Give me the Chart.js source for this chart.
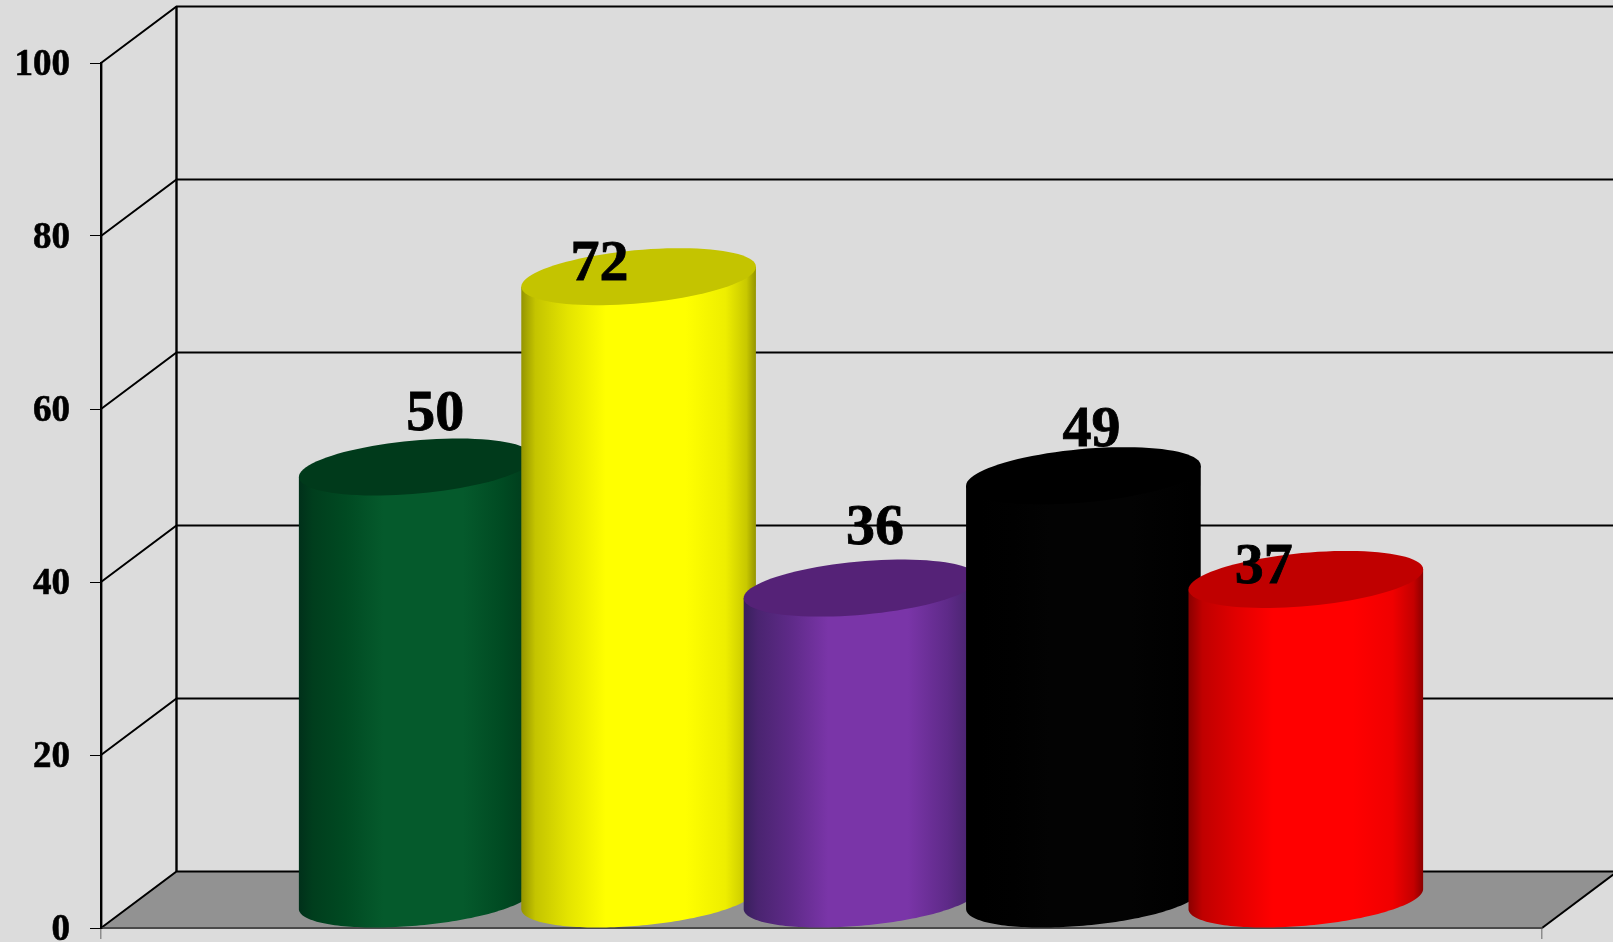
<!DOCTYPE html>
<html>
<head>
<meta charset="utf-8">
<style>
html,body{margin:0;padding:0;background:#dcdcdc;overflow:hidden}
#wrap{width:1613px;height:942px;position:relative}
canvas{display:block}
</style>
<script src="https://cdn.jsdelivr.net/npm/chart.js@4/dist/chart.umd.js"></script>
</head>
<body>
<div id="wrap"><canvas id="c" width="1613" height="942"></canvas></div>
<script>
const categories = [''];
const seriesNames = ['A', 'B', 'C', 'D', 'E'];
const seriesValues = [50, 72, 36, 49, 37];
const yTicks = [0, 20, 40, 60, 80, 100];

const bodyColors = [
  ['#00301a', '#003e1d', '#004a22', '#055a2c', '#055a2c', '#004a22', '#003e1d', '#00301a'],
  ['#949400', '#c4c400', '#e4e400', '#ffff00', '#ffff00', '#eeee00', '#c8c800', '#949400'],
  ['#38205c', '#4a2470', '#5e2a88', '#7a35a8', '#7a35a8', '#5e2a88', '#4a2470', '#38205c'],
  ['#000000', '#000000', '#010101', '#030303', '#030303', '#010101', '#000000', '#000000'],
  ['#8a0000', '#c00000', '#e00000', '#ff0000', '#ff0000', '#f00000', '#c40000', '#8a0000']
];
const topColors = ['#003a1b', '#c4c400', '#552277', '#000000', '#c00000'];
const gradientStops = [0, 0.06, 0.2, 0.36, 0.7, 0.87, 0.96, 1];
const labelNudge = [[19, -66], [-39, -25], [14, -73], [8, -58], [-42, -25]];

const WALL_DX = 75.5, WALL_DY = -56.5;
const CYL_DX = 39.5, CYL_DY = -28.5, TILT = 10, MINOR = 26.7;

function ellipsePath(ctx, cx, cy, a, from, to) {
  const n = 90;
  for (let i = 0; i <= n; i++) {
    const t = from + (to - from) * i / n;
    ctx.lineTo(cx + a * Math.cos(t), cy - TILT * Math.cos(t) + MINOR * Math.sin(t));
  }
}

const scene3d = {
  id: 'scene3d',
  beforeDraw(chart) {
    const {ctx, chartArea: area, scales: {y}} = chart;
    const b = area.bottom, l = area.left, r = area.right;
    ctx.save();
    ctx.fillStyle = '#dcdcdc';
    ctx.fillRect(0, 0, chart.width, chart.height);
    ctx.fillStyle = '#929292';
    ctx.beginPath();
    ctx.moveTo(l, b);
    ctx.lineTo(l + WALL_DX, b + WALL_DY);
    ctx.lineTo(r + WALL_DX, b + WALL_DY);
    ctx.lineTo(r, b);
    ctx.closePath();
    ctx.fill();

    ctx.strokeStyle = '#000';
    ctx.lineWidth = 2;
    yTicks.forEach(v => {
      const py = y.getPixelForValue(v);
      ctx.beginPath();
      ctx.moveTo(l, py);
      ctx.lineTo(l + WALL_DX, py + WALL_DY);
      ctx.lineTo(chart.width + 5, py + WALL_DY);
      ctx.stroke();
    });
    ctx.lineWidth = 2.4;
    ctx.beginPath();
    ctx.moveTo(l + WALL_DX, y.getPixelForValue(100) + WALL_DY);
    ctx.lineTo(l + WALL_DX, b + WALL_DY);
    ctx.stroke();
    ctx.lineWidth = 2;
    ctx.beginPath();
    ctx.moveTo(r, b);
    ctx.lineTo(r + WALL_DX, b + WALL_DY);
    ctx.stroke();
    ctx.restore();
  },
  beforeDatasetDraw() { return false; },
  afterDatasetsDraw(chart) {
    const {ctx} = chart;
    ctx.save();
    chart.data.datasets.forEach((ds, i) => {
      const el = chart.getDatasetMeta(i).data[0];
      const a = el.width / 2;
      const cx = el.x + CYL_DX;
      const topY = el.y + CYL_DY;
      const botY = el.base + CYL_DY;
      const g = ctx.createLinearGradient(cx - a, 0, cx + a, 0);
      gradientStops.forEach((s, k) => g.addColorStop(s, bodyColors[i][k]));
      ctx.fillStyle = g;
      ctx.beginPath();
      ctx.moveTo(cx - a, topY + TILT);
      ctx.lineTo(cx + a, topY - TILT);
      ellipsePath(ctx, cx, botY, a, 0, Math.PI);
      ctx.closePath();
      ctx.fill();
      ctx.fillStyle = topColors[i];
      ctx.beginPath();
      ellipsePath(ctx, cx, topY, a, 0, Math.PI * 2);
      ctx.closePath();
      ctx.fill();
    });
    ctx.fillStyle = '#000';
    ctx.strokeStyle = '#000';
    ctx.lineWidth = 0.8;
    ctx.font = 'bold 58px "Liberation Serif", serif';
    ctx.textAlign = 'center';
    ctx.textBaseline = 'alphabetic';
    chart.data.datasets.forEach((ds, i) => {
      const el = chart.getDatasetMeta(i).data[0];
      const tx = el.x + CYL_DX + labelNudge[i][0], ty = el.y + labelNudge[i][1];
      ctx.fillText(String(ds.data[0]), tx, ty);
      ctx.strokeText(String(ds.data[0]), tx, ty);
    });
    ctx.restore();
  }
};

new Chart(document.getElementById('c'), {
  type: 'bar',
  data: {
    labels: categories,
    datasets: seriesValues.map((v, i) => ({
      label: seriesNames[i],
      data: [v],
      backgroundColor: topColors[i],
      borderWidth: 0,
      categoryPercentage: 0.7717,
      barPercentage: 1.055
    }))
  },
  options: {
    responsive: false,
    animation: false,
    layout: {padding: {top: 63, right: 71, left: 0, bottom: 0}},
    plugins: {legend: {display: false}, tooltip: {enabled: false}, title: {display: false}},
    scales: {
      x: {
        grid: {offset: true, drawOnChartArea: false, tickLength: 11, color: '#8c8c8c', lineWidth: 1.5},
        border: {display: true, color: '#4a4a4a', width: 2},
        ticks: {display: false},
        afterFit(s) { s.height = 14; s.paddingLeft = 0; s.paddingRight = 0; }
      },
      y: {
        min: 0,
        max: 100,
        afterBuildTicks(s) { s.ticks = yTicks.map(v => ({value: v})); },
        grid: {drawOnChartArea: false, tickLength: 11, color: '#000', lineWidth: 1},
        border: {display: true, color: '#000', width: 2.4},
        ticks: {
          color: '#000',
          padding: 20,
          labelOffset: 2,
          textStrokeColor: '#000',
          textStrokeWidth: 0.6,
          font: {family: '"Liberation Serif", serif', size: 37, weight: 'bold'}
        },
        afterFit(s) { s.width = 101; s.paddingTop = 0; s.paddingBottom = 0; }
      }
    }
  },
  plugins: [scene3d]
});
</script>
</body>
</html>
